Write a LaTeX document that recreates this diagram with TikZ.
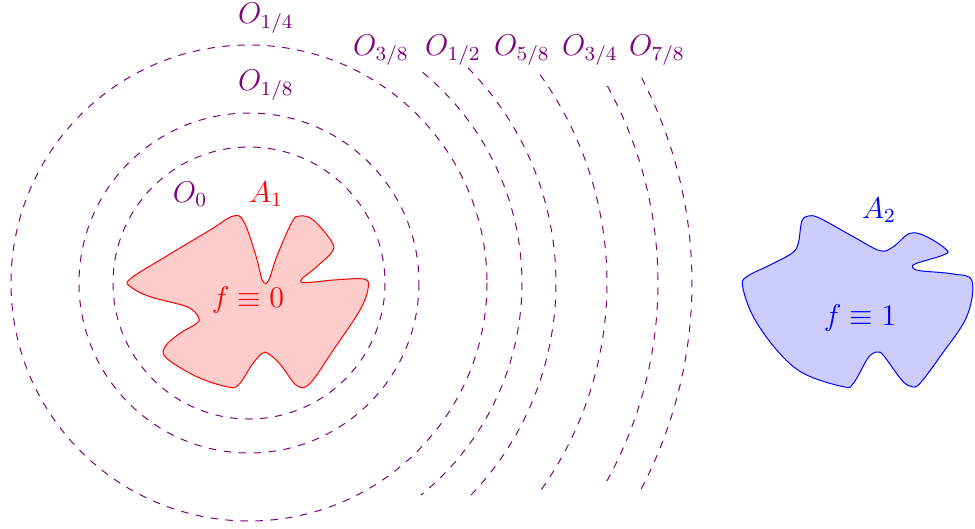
\documentclass[tikz,border=0pt]{standalone}
\begin{document}
\begin{tikzpicture}[x=0.4pt,y=-0.4pt,
  level/.style={draw=violet,dashed,line width=0.4pt},
  olabel/.style={text=violet,font=\fontsize{12}{14}\selectfont,inner sep=0pt},
  rlabel/.style={text=red,font=\fontsize{12}{14}\selectfont,inner sep=0pt},
  blabel/.style={text=blue,font=\fontsize{12}{14}\selectfont,inner sep=0pt}]
\useasboundingbox (0,0) rectangle (975,528);
\coordinate (c) at (249,283);
% full circles
\draw[level] (c) circle[radius=136];
\draw[level] (c) circle[radius=170];
\draw[level] (c) circle[radius=238];
% arcs
\draw[level] (c) ++(-50.5:273) arc[start angle=-50.5, end angle=51, radius=273];
\draw[level] (c) ++(-44.5:307) arc[start angle=-44.5, end angle=45, radius=307];
\draw[level] (c) ++(-35.6:358) arc[start angle=-35.6, end angle=36, radius=358];
\draw[level] (c) ++(-28.8:409) arc[start angle=-28.8, end angle=29.5, radius=409];
\draw[level] (c) ++(-27.6:443) arc[start angle=-27.6, end angle=28, radius=443];
% blob A1
\draw[red,fill=red!20,line width=0.4pt] plot[smooth cycle,tension=0.6] coordinates {
 (130,279) (166.7,256) (210,230) (233.3,216) (244,222) (256,256) (262.5,280.5) (268.5,280.5)
 (276.7,256.7) (292,222) (300,216) (313.3,220) (331.7,241.7) (332,252)
 (316.7,266.7) (301,282) (333.3,280) (363.3,279) (368.3,287) (360,310)
 (333.3,350) (310,383.3) (296.7,385.5) (280,364) (268,353.5) (262,353.5) (252.5,364)
 (238.3,385) (226.7,386.7) (196.7,376.7) (166.7,358.3) (165,346.7) (180,333.3)
 (196.7,323.3) (198.3,316.7) (186.7,306.7) (150,296.7) (131,287)};
% blob A2
\draw[blue,fill=blue!20,line width=0.4pt] plot[smooth cycle,tension=0.6] coordinates {
 (801.7,221.7) (808.3,216) (820,218.3) (853.3,236.7) (880,250.7) (893.3,246.7)
 (910,233.3) (926.7,236.7) (946.7,250) (943.3,255) (916.7,263.3) (912.7,267.3)
 (920,270.7) (953.3,274) (972,281) (966.7,316.7) (940,356.7) (920,383.3)
 (911.7,386.7) (901.7,380) (884,356) (878.5,352) (872.5,353.5) (866.7,360) (853.3,383.3)
 (843.3,386.7) (803.3,373.3) (776.7,350) (753.3,316.7) (742.7,286.7) (746.7,276.7)
 (770,265) (791.7,253.3) (798.3,243.3)};
% labels
\node[olabel] (o14) at (266,18) {$O_{1/4}$};
\node[olabel] (o18) at (266,85) {$O_{1/8}$};
\node[olabel] (o0) at (190,194) {$O_0$};
\node[rlabel] (a1) at (266,194) {$A_1$};
\node[rlabel] (f0) at (248,300) {$f\equiv 0$};
\node[olabel] (o38) at (381,50) {$O_{3/8}$};
\node[olabel] (o12) at (453,50) {$O_{1/2}$};
\node[olabel] (o58) at (522,50) {$O_{5/8}$};
\node[olabel] (o34) at (590,50) {$O_{3/4}$};
\node[olabel] (o78) at (657,50) {$O_{7/8}$};
\node[blabel] (a2) at (879,210) {$A_2$};
\node[blabel] (f1) at (860,318) {$f\equiv 1$};
\end{tikzpicture}
\end{document}
